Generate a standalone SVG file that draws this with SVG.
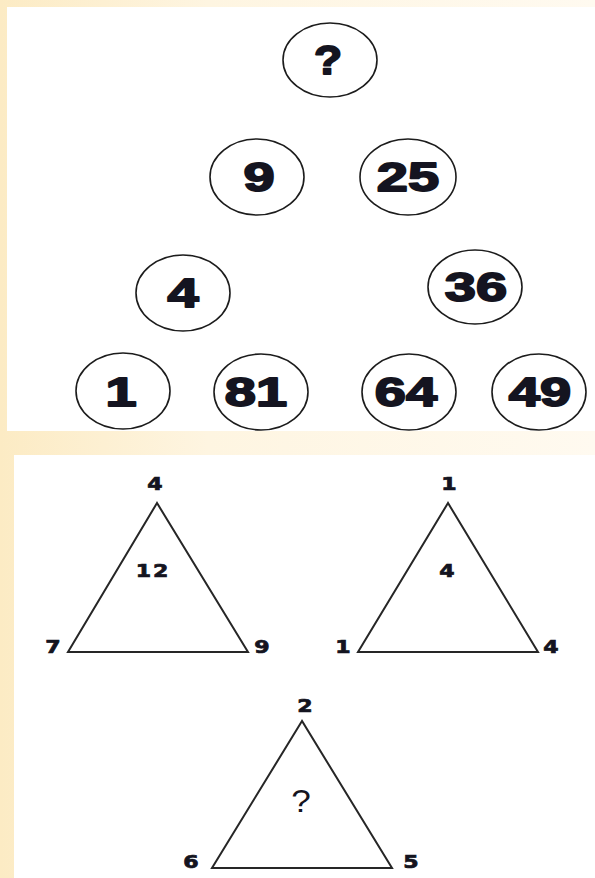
<svg xmlns="http://www.w3.org/2000/svg" width="595" height="878" viewBox="0 0 595 878">
  <defs>
    <linearGradient id="bg" x1="0" y1="0" x2="1" y2="0">
      <stop offset="0" stop-color="#fcebc4"/>
      <stop offset="0.35" stop-color="#fef5e1"/>
      <stop offset="1" stop-color="#fffaf0"/>
    </linearGradient>
  </defs>
  <style>
    .panel { fill: #ffffff; }
    .ring { fill: #ffffff; stroke: #1c1c1c; stroke-width: 1.6; }
    .num { font-family: "Liberation Sans", Arial, sans-serif; font-weight: bold; font-size: 40px; fill: #141420; stroke: #141420; stroke-width: 1.8; stroke-linejoin: round; text-anchor: middle; }
    .tri { fill: none; stroke: #262626; stroke-width: 2; stroke-linejoin: miter; }
    .lab { font-family: "DejaVu Sans", Verdana, sans-serif; font-weight: bold; font-size: 17px; fill: #141420; stroke: #141420; stroke-width: 0.7; text-anchor: middle; }
    .q { font-family: "Liberation Sans", Arial, sans-serif; font-size: 32px; fill: #141420; text-anchor: middle; }
  </style>
  <rect x="0" y="0" width="595" height="878" fill="url(#bg)"/>
  <rect class="panel" x="7" y="7" width="588" height="424"/>
  <rect class="panel" x="14" y="455" width="581" height="423"/>

  <g id="connectors"></g>

  <g id="node-top">
    <ellipse class="ring" cx="330" cy="60" rx="47" ry="37"/>
    <text class="num" transform="translate(328,74) scale(1.15,1)">?</text>
  </g>
  <g id="node-9">
    <ellipse class="ring" cx="257" cy="177" rx="47" ry="38"/>
    <text class="num" transform="translate(259,191) scale(1.4,1)">9</text>
  </g>
  <g id="node-25">
    <ellipse class="ring" cx="408" cy="177" rx="48" ry="38"/>
    <text class="num" transform="translate(408,191) scale(1.4,1)">25</text>
  </g>
  <g id="node-4">
    <ellipse class="ring" cx="183" cy="293" rx="47" ry="38"/>
    <text class="num" transform="translate(183,307) scale(1.4,1)">4</text>
  </g>
  <g id="node-36">
    <ellipse class="ring" cx="475" cy="287" rx="47" ry="37"/>
    <text class="num" transform="translate(476,301) scale(1.4,1)">36</text>
  </g>
  <g id="node-1">
    <ellipse class="ring" cx="123" cy="391" rx="47" ry="38"/>
    <text class="num" transform="translate(121,406) scale(1.4,1)">1</text>
  </g>
  <g id="node-81">
    <ellipse class="ring" cx="261" cy="392" rx="47" ry="38"/>
    <text class="num" transform="translate(256,406) scale(1.4,1)">81</text>
  </g>
  <g id="node-64">
    <ellipse class="ring" cx="409" cy="392" rx="47" ry="38"/>
    <text class="num" transform="translate(406,406) scale(1.4,1)">64</text>
  </g>
  <g id="node-49">
    <ellipse class="ring" cx="539" cy="392" rx="47" ry="38"/>
    <text class="num" transform="translate(540,406) scale(1.4,1)">49</text>
  </g>

  <g id="triangle-1">
    <polygon class="tri" points="157,503 68,652 248,652"/>
    <text class="lab" transform="translate(155,490) scale(1.3,1)">4</text>
    <text class="lab" transform="translate(153,577) scale(1.3,1)" letter-spacing="1.5">12</text>
    <text class="lab" transform="translate(53,653) scale(1.3,1)">7</text>
    <text class="lab" transform="translate(262,653) scale(1.3,1)">9</text>
  </g>
  <g id="triangle-2">
    <polygon class="tri" points="448,503 358,652 538,652"/>
    <text class="lab" transform="translate(449,490) scale(1.3,1)">1</text>
    <text class="lab" transform="translate(447,577) scale(1.3,1)">4</text>
    <text class="lab" transform="translate(343,653) scale(1.3,1)">1</text>
    <text class="lab" transform="translate(551,653) scale(1.3,1)">4</text>
  </g>
  <g id="triangle-3">
    <polygon class="tri" points="302,721 212,868 392,868"/>
    <text class="lab" transform="translate(305,712) scale(1.3,1)">2</text>
    <text class="q" transform="translate(301,812) scale(1.1,1)">?</text>
    <text class="lab" transform="translate(191,868) scale(1.3,1)">6</text>
    <text class="lab" transform="translate(411,868) scale(1.3,1)">5</text>
  </g>
</svg>
